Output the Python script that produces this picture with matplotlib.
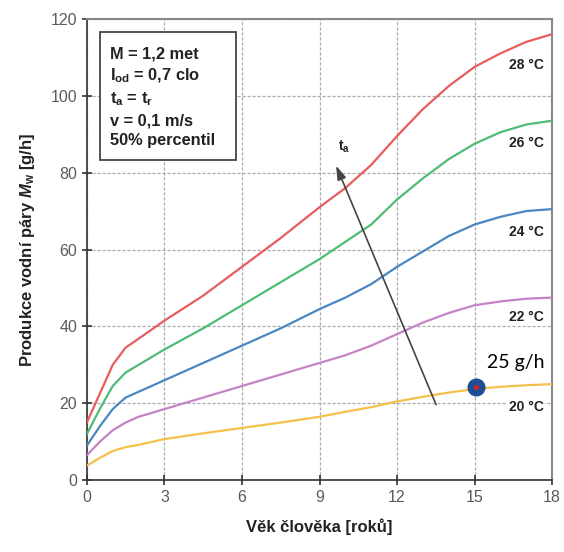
import matplotlib
matplotlib.use("Agg")
import matplotlib.pyplot as plt
from matplotlib.patches import Rectangle

plt.rcParams['font.family'] = ['Liberation Sans', 'DejaVu Sans']
plt.rcParams['mathtext.fontset'] = 'custom'
plt.rcParams['mathtext.rm'] = 'Liberation Sans'
plt.rcParams['mathtext.it'] = 'Liberation Sans:italic'
plt.rcParams['mathtext.bf'] = 'Liberation Sans:bold'
plt.rcParams['mathtext.bfit'] = 'Liberation Sans:bold:italic'

# age of person (years)
age = [0, 0.5, 1, 1.5, 2, 3, 4.5, 6, 7.5, 9, 10, 11, 12, 13, 14, 15, 16, 17, 18]

# water vapour production (g/h) per air temperature
mw_28 = [15, 22.5, 30, 34.5, 36.8, 41.5, 48, 55.5, 63, 71, 76, 82, 89.5, 96.5, 102.5, 107.5, 111, 114, 116]
mw_26 = [12, 18.5, 24.5, 28, 30, 34, 39.5, 45.5, 51.5, 57.5, 62, 66.5, 73, 78.5, 83.5, 87.5, 90.5, 92.5, 93.5]
mw_24 = [9, 14, 18.5, 21.5, 23, 26, 30.5, 35, 39.5, 44.5, 47.5, 51, 55.5, 59.5, 63.5, 66.5, 68.5, 70, 70.5]
mw_22 = [6.5, 10, 13, 15, 16.5, 18.5, 21.5, 24.5, 27.5, 30.5, 32.5, 35, 38, 41, 43.5, 45.5, 46.5, 47.2, 47.5]
mw_20 = [3.8, 5.8, 7.6, 8.6, 9.2, 10.7, 12.2, 13.6, 15, 16.5, 17.8, 19, 20.5, 21.7, 22.8, 23.7, 24.3, 24.7, 25]

series = [mw_20, mw_22, mw_24, mw_26, mw_28]
labels = ["20 °C", "22 °C", "24 °C", "26 °C", "28 °C"]
label_y = [19, 42.4, 64.5, 87.7, 108]
colors = ["#f4c04a", "#c583c6", "#4a87c2", "#4fbb78", "#e85c5c"]

# highlighted point
point_age = 15.05
point_mw = 24.3
point_text = "25 g/h"

fig = plt.figure(figsize=(5.64, 5.52), dpi=100)
ax = fig.add_axes([0.154, 0.130, 0.825, 0.836])

for vals, c in zip(series, colors):
    ax.plot(age, vals, color=c, lw=1.6, zorder=3)

for lab, ly in zip(labels, label_y):
    ax.text(17.0, ly, lab, ha='center', va='center', fontsize=10,
            fontweight='bold', color='#222222', zorder=4,
            bbox=dict(facecolor='white', edgecolor='none', pad=1))

# temperature arrow
ax.annotate("", xy=(9.6, 82.5), xytext=(13.55, 19),
            arrowprops=dict(arrowstyle='-|>,head_length=0.7,head_width=0.22',
                            color='#444444', lw=1.2, mutation_scale=12), zorder=5)
ax.text(9.95, 84.5, r"$\mathbf{t}_\mathbf{a}$", fontsize=10, ha='center',
        va='bottom', color='#222222')

# parameter box
ax.add_patch(Rectangle((0.5, 83.3), 5.27, 33.3, facecolor='white',
                       edgecolor='#444444', lw=1.3, zorder=6))
ax.text(0.89, 99.6, "M = 1,2 met\n" + r"I$_\mathbf{od}$ = 0,7 clo" + "\n"
        + r"t$_\mathbf{a}$ = t$_\mathbf{r}$" + "\nv = 0,1 m/s\n50% percentil",
        ha='left', va='center', fontsize=11.8, fontweight='bold', color='#222222',
        linespacing=1.42, zorder=7)

ax.plot(point_age, point_mw, 'o', ms=12, color='#1f4e94', zorder=7)
ax.plot(point_age, point_mw, 'o', ms=2.5, color='#e02020', zorder=8)
ax.text(16.6, 30.7, point_text, ha='center', va='center', fontsize=14,
        family=['Lato', 'DejaVu Sans'], color='black', zorder=8)

ax.set_xlim(0, 18)
ax.set_ylim(0, 120)
ax.set_xticks(range(0, 19, 3))
ax.set_yticks(range(0, 121, 20))
ax.grid(True, color='#aaaaaa', ls=(0, (2.5, 1.5)), lw=0.9)
ax.set_axisbelow(True)
ax.tick_params(direction='inout', length=7, width=1.2, colors='#333333',
               labelcolor='#5a5a5a', labelsize=11.5)
for s in ['left', 'bottom']:
    ax.spines[s].set_color('#333333')
    ax.spines[s].set_linewidth(1.2)
for s in ['top', 'right']:
    ax.spines[s].set_color('#888888')
    ax.spines[s].set_linewidth(1.5)

ax.set_xlabel("Věk člověka [roků]", fontsize=12, fontweight='bold',
              color='#222222', labelpad=10)
ax.set_ylabel(r"Produkce vodní páry $\mathbfit{M}_\mathbf{w}$ [g/h]",
              fontsize=12, fontweight='bold', color='#222222', labelpad=10)

fig.savefig("out.png", dpi=100)
